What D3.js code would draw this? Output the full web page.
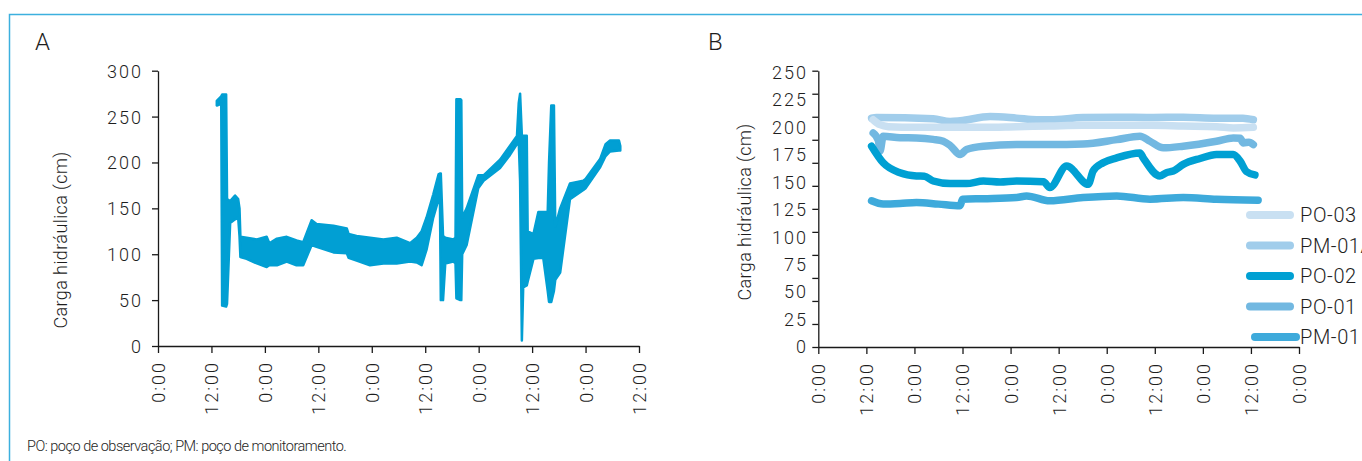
<!DOCTYPE html>
<html>
<head>
<meta charset="utf-8">
<script src="https://cdn.jsdelivr.net/npm/d3@7"></script>
<style>
  html, body { margin: 0; padding: 0; background: #fff; }
  svg text { font-family: Roboto, "Open Sans", sans-serif; font-weight: 300; fill: #1e1e1e; }
</style>
</head>
<body>
<svg id="chart" width="1362" height="461"></svg>
<script>
// ---- data -------------------------------------------------------------
// time axis: hours since the first 0:00 mark
const tickHoursA = [0, 12, 24, 36, 48, 60, 72, 84, 96, 108];
const tickLabelsA = ["0:00", "12:00", "0:00", "12:00", "0:00", "12:00", "0:00", "12:00", "0:00", "12:00"];
const tickHoursB = [0, 12, 24, 36, 48, 60, 72, 84, 96, 108, 120];
const tickLabelsB = ["0:00", "12:00", "0:00", "12:00", "0:00", "12:00", "0:00", "12:00", "0:00", "12:00", "0:00"];
const yTicksA = [0, 50, 100, 150, 200, 250, 300];
const yTicksB = [0, 25, 50, 75, 100, 125, 150, 175, 200, 225, 250];
const yMarksB = [0, 25, 50, 75, 100, 125, 150, 175, 200, 225, 250, 275, 300];

// panel A: hydraulic head range per reading [hour, min, max] (cm)
const headA = [
  [13.2, 262, 267], [14.2, 264, 272], [14.4, 44, 274], [15.3, 43, 274], [15.5, 46, 160],
  [16.2, 134, 158], [17.3, 138, 164], [18.0, 140, 160], [18.3, 120, 150], [18.5, 97, 119],
  [19.9, 95, 118], [22.2, 90, 116], [24.4, 86, 119], [25.0, 88, 112], [26.7, 88, 117],
  [28.9, 92, 119], [31.1, 88, 115], [32.6, 88, 113], [34.5, 110, 137], [35.6, 108, 133],
  [39.4, 102, 131], [42.4, 101, 128], [42.8, 96, 122], [44.6, 93, 120], [47.6, 88, 118],
  [50.6, 90, 116], [53.6, 90, 118], [56.6, 92, 112], [58.1, 91, 118], [59.2, 88, 125],
  [60.3, 105, 140], [61.8, 140, 165], [63.0, 160, 187], [63.3, 162, 188], [63.5, 50, 188],
  [64.0, 50, 120], [64.5, 90, 118], [66.3, 92, 116], [66.8, 90, 118], [67.0, 52, 269],
  [67.9, 50, 269], [68.1, 50, 268], [68.3, 100, 140], [69.3, 110, 150], [71.9, 172, 186],
  [73.1, 180, 186], [76.8, 194, 203], [79.0, 208, 218], [80.6, 220, 229], [81.0, 222, 265],
  [81.3, 180, 275], [81.7, 6, 229], [82.0, 64, 229], [82.8, 66, 229], [83.0, 70, 125],
  [84.3, 95, 122], [85.4, 96, 146], [86.5, 96, 146], [87.5, 60, 146], [87.8, 48, 200],
  [88.3, 48, 262], [88.9, 60, 262], [89.2, 72, 130], [90.3, 80, 150], [92.5, 160, 177],
  [95.5, 170, 180], [96.0, 172, 182], [99.3, 195, 204], [100.5, 207, 220], [101.5, 212, 224],
  [103.5, 213, 224], [103.8, 213, 218]
];

// panel B: hydraulic head per well [hour, cm]
const po03 = [
  [13.7, 206.9], [15.4, 202.4], [17.5, 200.6], [24.5, 200], [32.9, 200], [41.2, 200],
  [49.5, 200.6], [57.8, 201.2], [66.1, 201.8], [82.8, 201.8], [91.1, 201.2], [99.4, 200.6],
  [103.6, 199.4], [108.6, 200]
];
const pm01a = [
  [13.3, 208.4], [14.5, 209], [28.7, 207.8], [32.9, 205.4], [35.4, 206], [42.9, 209.9],
  [49.5, 208.4], [54.5, 206.9], [57.8, 206.9], [66.1, 209], [74.5, 209.3], [82.8, 209],
  [91.1, 209.3], [99.4, 208.4], [106, 208.4], [108.6, 206.9]
];
const po02 = [
  [13.3, 182.8], [16.2, 167.7], [20.4, 158.6], [24.5, 155.7], [26.5, 155.5], [28.7, 151.1],
  [32.9, 148.7], [37.0, 148.7], [41.2, 151.1], [45.4, 150.2], [49.5, 151.1], [56.2, 150.5],
  [57.8, 145.1], [62.0, 164.7], [67.4, 148.1], [68.6, 160.2], [71.1, 167.7], [74.5, 172.2],
  [80.3, 176.7], [81.1, 172.2], [85.3, 155.7], [86.9, 158.6], [88.6, 160.2], [91.1, 166.2],
  [95.3, 171.6], [99.4, 175.3], [103.6, 175.3], [105.3, 169.2], [106.9, 159.6], [109.0, 156.6]
];
const po01 = [
  [13.7, 194.9], [15.0, 188], [15.4, 178.3], [16.2, 191.9], [20.4, 190.5], [24.5, 190.3],
  [28.7, 189], [31.2, 187.3], [32.9, 183.5], [35.4, 175.3], [37.0, 179.8], [41.2, 182.8],
  [49.5, 184.3], [57.8, 184.3], [66.1, 184.8], [74.5, 188.8], [80.3, 191.9], [82.8, 187.3],
  [86.1, 181.3], [91.1, 182.8], [99.4, 187.3], [103.6, 190.3], [105.3, 190], [106.1, 185.8],
  [107.5, 186.5], [108.6, 184.3]
];
const pm01 = [
  [13.3, 133], [16.2, 130], [20.4, 130.5], [24.5, 131.5], [30, 130], [35.4, 128.5],
  [36.0, 134.5], [41.2, 135], [49.5, 136], [52.0, 137.5], [57.8, 133], [66.1, 136],
  [74.5, 137.5], [82.8, 134.5], [91.1, 136], [99.4, 134.5], [109.8, 133.6]
];

const seriesNames = ["PO-03", "PM-01A", "PO-02", "PO-01", "PM-01"];
const seriesColors = ["#c9e0f2", "#a1cdeb", "#00a0d3", "#72b8e1", "#3eaadb"];
const seriesData = [po03, pm01a, po02, po01, pm01];

const titleY = "Carga hidráulica (cm)";
const footnote = "PO: poço de observação; PM: poço de monitoramento.";

// ---- drawing -----------------------------------------------------------
const svg = d3.select("#chart");

// frame
svg.append("path")
  .attr("d", "M1362,14.5H9.5V461")
  .attr("fill", "none").attr("stroke", "#3cb0de").attr("stroke-width", 1.5);

function styleAxis(g) {
  g.selectAll(".domain").attr("stroke", "#1a1a1a").attr("stroke-width", 1.3);
  g.selectAll(".tick line").attr("stroke", "#1a1a1a").attr("stroke-width", 1.3);
  g.selectAll("text").attr("fill", "#1e1e1e").style("font-family", "Roboto, sans-serif")
    .style("font-weight", 300);
}

function timeAxis(g, scale, hours, labels) {
  g.call(d3.axisBottom(scale).tickValues(hours).tickSize(7).tickSizeOuter(0)
      .tickFormat((d, i) => labels[i]));
  g.selectAll("text")
    .attr("transform", "rotate(-90)")
    .attr("text-anchor", "end")
    .attr("x", -15).attr("y", 0).attr("dy", "0.36em")
    .style("font-size", "18px").style("letter-spacing", "2px");
  styleAxis(g);
}

// ---- panel A ----
const xA = d3.scaleLinear().domain([0, 108]).range([158, 639]);
const yA = d3.scaleLinear().domain([0, 300]).range([346, 70.7]);

const gAy = svg.append("g").attr("transform", "translate(158,0)")
  .call(d3.axisLeft(yA).tickValues(yTicksA).tickSize(6).tickSizeOuter(0).tickPadding(9));
gAy.selectAll("text").style("font-size", "18px").style("letter-spacing", "2px").attr("dy", "0.36em");
styleAxis(gAy);

const gAx = svg.append("g").attr("transform", "translate(0,346)");
timeAxis(gAx, xA, tickHoursA, tickLabelsA);

svg.append("path")
  .datum(headA)
  .attr("d", d3.area().x(d => xA(d[0])).y0(d => yA(d[1])).y1(d => yA(d[2])))
  .attr("fill", "#019fd3").attr("stroke", "#019fd3").attr("stroke-width", 2.5)
  .attr("stroke-linejoin", "round");

svg.append("text").attr("x", 35).attr("y", 50).text("A")
  .style("font-size", "24px");
svg.append("text").attr("transform", "translate(67,240) rotate(-90)")
  .attr("text-anchor", "middle").text(titleY)
  .style("font-size", "18px").style("letter-spacing", "0.4px");

// ---- panel B ----
const xB = d3.scaleLinear().domain([0, 120]).range([818.3, 1299]);
const yB = d3.scaleLinear().domain([0, 250]).range([346.7, 72.5]);
const yBmarks = d3.scaleLinear().domain([0, 300]).range([347, 70.7]);

// tick marks every 25 on the frame scale, value labels on the data scale
const gBy = svg.append("g").attr("transform", "translate(818.3,0)")
  .call(d3.axisLeft(yBmarks).tickValues(yMarksB).tickSize(6).tickSizeOuter(0).tickFormat(""));
styleAxis(gBy);
svg.append("g").selectAll("text").data(yTicksB).join("text")
  .attr("x", 808).attr("y", d => yB(d)).attr("dy", "0.36em")
  .attr("text-anchor", "end").text(d => d)
  .style("font-size", "18px").style("letter-spacing", "2px");

const gBx = svg.append("g").attr("transform", "translate(0,347)");
timeAxis(gBx, xB, tickHoursB, tickLabelsB);

const lineB = d3.line().x(d => xB(d[0])).y(d => yB(d[1])).curve(d3.curveMonotoneX);
const drawOrder = [4, 3, 2, 1, 0];
drawOrder.forEach(i => {
  svg.append("path").datum(seriesData[i])
    .attr("d", lineB)
    .attr("fill", "none").attr("stroke", seriesColors[i]).attr("stroke-width", 7.5)
    .attr("stroke-linecap", "round").attr("stroke-linejoin", "round");
});

// legend
const legendY = d3.scalePoint().domain(seriesNames).range([215, 337]);
const lg = svg.append("g");
seriesNames.forEach((name, i) => {
  const y = legendY(name);
  const last = i === seriesNames.length - 1;
  lg.append("line").attr("x1", last ? 1255 : 1250).attr("x2", last ? 1296 : 1290)
    .attr("y1", y).attr("y2", y)
    .attr("stroke", seriesColors[i]).attr("stroke-width", 8).attr("stroke-linecap", "round");
  lg.append("text").attr("x", 1300).attr("y", y).attr("dy", "0.36em").text(name)
    .style("font-size", "20px").style("letter-spacing", "0.6px");
});

svg.append("text").attr("x", 708).attr("y", 50).text("B")
  .style("font-size", "24px");
svg.append("text").attr("transform", "translate(751,212) rotate(-90)")
  .attr("text-anchor", "middle").text(titleY)
  .style("font-size", "18px").style("letter-spacing", "0.4px");

// footnote
svg.append("text").attr("x", 27).attr("y", 451).text(footnote)
  .style("font-size", "14.5px").style("letter-spacing", "-0.5px");
</script>
</body>
</html>
